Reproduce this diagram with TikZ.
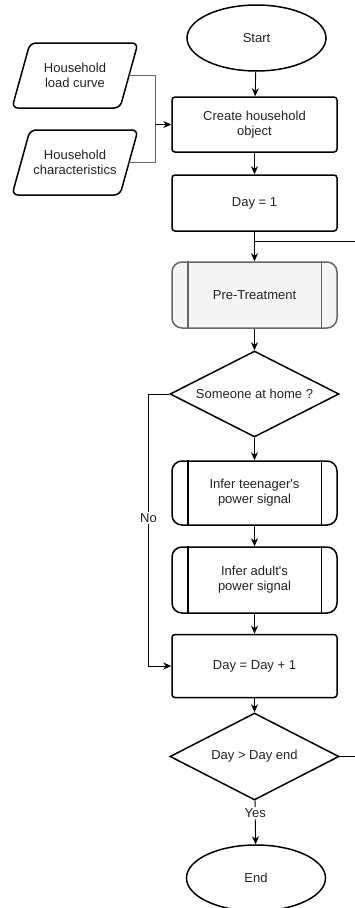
\documentclass[tikz,border=0pt]{standalone}
\usepackage{fontspec}
\setmainfont{Liberation Sans}
\usetikzlibrary{shapes.geometric,arrows.meta}
\definecolor{txt}{HTML}{222222}
\definecolor{grayline}{HTML}{666666}
\definecolor{grayfill}{HTML}{F5F5F5}
\begin{document}
\begin{tikzpicture}[x=1pt,y=-1pt,
  font=\fontsize{13}{15}\selectfont,
  every node/.style={text=txt, align=center, inner sep=0pt},
  shapeline/.style={draw=black, line width=1.5pt},
  term/.style={shapeline, ellipse, minimum width=139pt, minimum height=66pt},
  procbox/.style={shapeline, rectangle, rounded corners=3pt, minimum width=165pt},
  subproc/.style={shapeline, rectangle, rounded corners=10pt, minimum width=165pt},
  decision/.style={shapeline, diamond, aspect=2, minimum width=169pt, minimum height=86pt},
  datain/.style={rectangle, minimum width=108pt, minimum height=65pt},
  conn/.style={draw=black, line width=0.9pt},
  arr/.style={conn, -{Stealth[length=8pt,width=7pt,inset=2.5pt]}},
  lbl/.style={fill=white, inner sep=1.5pt}
]
\useasboundingbox (0,0) rectangle (354,908);

% nodes
\node[term] (start) at (256.5,38) {Start};
\node[procbox, minimum height=55pt] (create) at (254.5,124.5) {Create household\\object};
\node[procbox, minimum height=56pt] (day1) at (254.5,203) {Day = 1};
\node[subproc, draw=grayline, fill=grayfill, minimum height=66pt] (pre) at (254.5,295) {Pre-Treatment};
\node[decision] (home) at (254.5,394) {Someone at home ?};
\node[subproc, minimum height=64pt] (teen) at (254.5,493) {Infer teenager\textquotesingle s\\power signal};
\node[subproc, minimum height=66pt] (adult) at (254.5,580) {Infer adult\textquotesingle s\\power signal};
\node[procbox, minimum height=63pt] (dayinc) at (254.5,666) {Day = Day + 1};
\node[decision, minimum height=87pt] (dend) at (254.5,756.5) {Day \textgreater{} Day end};
\node[term] (end) at (256,878) {End};

\node[datain] (p1) at (75,75.5) {Household\\load curve};
\node[datain] (p2) at (75,162.5) {Household\\characteristics};

% parallelogram outlines
\foreach \n in {p1,p2}{
  \draw[shapeline, rounded corners=6pt]
    ([shift={(-45,-32.5)}]\n.center) -- ([shift={(63,-32.5)}]\n.center)
    -- ([shift={(45,32.5)}]\n.center) -- ([shift={(-63,32.5)}]\n.center) -- cycle;
}

% inner lines of predefined processes
\foreach \n/\c in {pre/grayline, teen/black, adult/black}{
  \draw[line width=1.5pt, draw=\c] ([xshift=16.5pt]\n.north west) -- ([xshift=16.5pt]\n.south west);
  \draw[line width=1.5pt, draw=\c] ([xshift=-16.5pt]\n.north east) -- ([xshift=-16.5pt]\n.south east);
}

% coordinates
\coordinate (m) at (155,124.5);
\coordinate (j) at (254.5,241);
\coordinate (nc) at (148.5,394);
\coordinate (nc2) at (148.5,666);
\coordinate (loopr) at (380,756.5);
\coordinate (loopt) at (380,241);

% connectors
\draw[arr] (start) -- (create);
\draw[conn, draw=grayline] (p1.east) -| (m);
\draw[conn, draw=grayline] (p2.east) -| (m);
\draw[arr] (m) -- (create.west);
\draw[arr] (create) -- (day1);
\draw[arr] (day1) -- (pre);
\draw[arr] (pre) -- (home);
\draw[arr] (home) -- (teen);
\draw[arr] (teen) -- (adult);
\draw[arr] (adult) -- (dayinc);
\draw[conn] (home.west) -- (nc);
\draw[arr] (nc) -- node[lbl, pos=0.456] {No} (nc2) -- (dayinc.west);
\draw[arr] (dayinc) -- (dend);
\draw[arr] (dend) -- node[lbl, pos=0.29] {Yes} (end);
\draw[conn] (dend.east) -- (loopr) -- (loopt) -- (j);
\end{tikzpicture}
\end{document}
